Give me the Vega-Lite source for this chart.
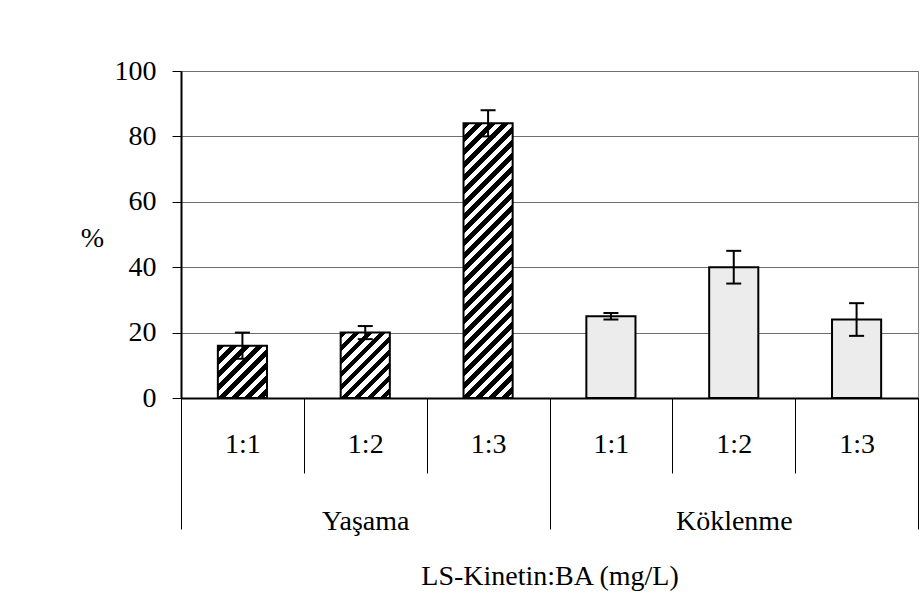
{
  "$schema": "https://vega.github.io/schema/vega-lite/v6.json",
  "width": 737,
  "height": 327,
  "autosize": "none",
  "padding": {"left": 181, "top": 71, "right": 6, "bottom": 210},
  "background": "white",
  "config": {"view": {"stroke": "#808080", "strokeWidth": 1}, "font": "Times New Roman, Liberation Serif, serif"},
  "data": {"values": [
    {"key": "Yaşama|1:1", "grp": "Yaşama", "cat": "1:1", "val": 16, "lo": 12, "hi": 20},
    {"key": "Yaşama|1:2", "grp": "Yaşama", "cat": "1:2", "val": 20, "lo": 18, "hi": 22},
    {"key": "Yaşama|1:3", "grp": "Yaşama", "cat": "1:3", "val": 84, "lo": 80, "hi": 88},
    {"key": "Köklenme|1:1", "grp": "Köklenme", "cat": "1:1", "val": 25, "lo": 24, "hi": 26},
    {"key": "Köklenme|1:2", "grp": "Köklenme", "cat": "1:2", "val": 40, "lo": 35, "hi": 45},
    {"key": "Köklenme|1:3", "grp": "Köklenme", "cat": "1:3", "val": 24, "lo": 19, "hi": 29}
  ]},
  "layer": [
    {
      "layer": [
        {
          "mark": {"type": "bar", "stroke": "black", "strokeWidth": 2, "width": {"band": 0.4}},
          "encoding": {
            "x": {
              "field": "key", "type": "nominal",
              "scale": {"domain": ["Yaşama|1:1", "Yaşama|1:2", "Yaşama|1:3", "Köklenme|1:1", "Köklenme|1:2", "Köklenme|1:3"], "paddingInner": 0, "paddingOuter": 0},
              "axis": {
                "title": null, "labelExpr": "split(datum.value, '|')[1]", "labelAngle": 0,
                "tickBand": "extent", "tickSize": 75, "tickColor": "black", "tickWidth": 1,
                "domainColor": "black", "domainWidth": 2, "grid": false,
                "labelFont": "Times New Roman, Liberation Serif, serif", "labelFontSize": 28, "labelColor": "black",
                "labelBaseline": "middle", "labelPadding": -29
              }
            },
            "y": {
              "field": "val", "type": "quantitative",
              "scale": {"domain": [0, 100]},
              "axis": {
                "values": [0, 20, 40, 60, 80, 100], "grid": true, "gridColor": "#6e6e6e", "gridWidth": 1,
                "tickSize": 9, "tickColor": "black", "domainColor": "black", "domainWidth": 2,
                "labelFont": "Times New Roman, Liberation Serif, serif", "labelFontSize": 28, "labelColor": "black", "labelPadding": 16,
                "title": "%", "titleAngle": 0, "titleX": -89, "titleY": 167, "titleAlign": "center", "titleBaseline": "middle",
                "titleFont": "Times New Roman, Liberation Serif, serif", "titleFontSize": 28, "titleFontWeight": "normal", "titleColor": "black"
              }
            },
            "fill": {
              "condition": [
                {"test": "datum.key === 'Yaşama|1:1'", "value": {"gradient": "linear", "x1": 0, "y1": 0, "x2": 0.9676, "y2": 1.0304, "stops": [
                  {"offset": 0, "color": "#000"}, {"offset": 0.0641, "color": "#000"},
                  {"offset": 0.0641, "color": "#fff"}, {"offset": 0.1282, "color": "#fff"},
                  {"offset": 0.1282, "color": "#000"}, {"offset": 0.1923, "color": "#000"},
                  {"offset": 0.1923, "color": "#fff"}, {"offset": 0.2564, "color": "#fff"},
                  {"offset": 0.2564, "color": "#000"}, {"offset": 0.3205, "color": "#000"},
                  {"offset": 0.3205, "color": "#fff"}, {"offset": 0.3846, "color": "#fff"},
                  {"offset": 0.3846, "color": "#000"}, {"offset": 0.4487, "color": "#000"},
                  {"offset": 0.4487, "color": "#fff"}, {"offset": 0.5128, "color": "#fff"},
                  {"offset": 0.5128, "color": "#000"}, {"offset": 0.5769, "color": "#000"},
                  {"offset": 0.5769, "color": "#fff"}, {"offset": 0.641, "color": "#fff"},
                  {"offset": 0.641, "color": "#000"}, {"offset": 0.7051, "color": "#000"},
                  {"offset": 0.7051, "color": "#fff"}, {"offset": 0.7692, "color": "#fff"},
                  {"offset": 0.7692, "color": "#000"}, {"offset": 0.8333, "color": "#000"},
                  {"offset": 0.8333, "color": "#fff"}, {"offset": 0.8974, "color": "#fff"},
                  {"offset": 0.8974, "color": "#000"}, {"offset": 0.9615, "color": "#000"},
                  {"offset": 0.9615, "color": "#fff"}, {"offset": 1, "color": "#fff"}
                ]}},
                {"test": "datum.key === 'Yaşama|1:2'", "value": {"gradient": "linear", "x1": 0, "y1": 0, "x2": 0.841, "y2": 1.1195, "stops": [
                  {"offset": 0, "color": "#000"}, {"offset": 0.0568, "color": "#000"},
                  {"offset": 0.0568, "color": "#fff"}, {"offset": 0.1135, "color": "#fff"},
                  {"offset": 0.1135, "color": "#000"}, {"offset": 0.1703, "color": "#000"},
                  {"offset": 0.1703, "color": "#fff"}, {"offset": 0.2271, "color": "#fff"},
                  {"offset": 0.2271, "color": "#000"}, {"offset": 0.2839, "color": "#000"},
                  {"offset": 0.2839, "color": "#fff"}, {"offset": 0.3406, "color": "#fff"},
                  {"offset": 0.3406, "color": "#000"}, {"offset": 0.3974, "color": "#000"},
                  {"offset": 0.3974, "color": "#fff"}, {"offset": 0.4542, "color": "#fff"},
                  {"offset": 0.4542, "color": "#000"}, {"offset": 0.5109, "color": "#000"},
                  {"offset": 0.5109, "color": "#fff"}, {"offset": 0.5677, "color": "#fff"},
                  {"offset": 0.5677, "color": "#000"}, {"offset": 0.6245, "color": "#000"},
                  {"offset": 0.6245, "color": "#fff"}, {"offset": 0.6812, "color": "#fff"},
                  {"offset": 0.6812, "color": "#000"}, {"offset": 0.738, "color": "#000"},
                  {"offset": 0.738, "color": "#fff"}, {"offset": 0.7948, "color": "#fff"},
                  {"offset": 0.7948, "color": "#000"}, {"offset": 0.8516, "color": "#000"},
                  {"offset": 0.8516, "color": "#fff"}, {"offset": 0.9083, "color": "#fff"},
                  {"offset": 0.9083, "color": "#000"}, {"offset": 0.9651, "color": "#000"},
                  {"offset": 0.9651, "color": "#fff"}, {"offset": 1, "color": "#fff"}
                ]}},
                {"test": "datum.key === 'Yaşama|1:3'", "value": {"gradient": "linear", "x1": 0, "y1": 0, "x2": 0.2043, "y2": 1.1423, "stops": [
                  {"offset": 0, "color": "#000"}, {"offset": 0.0201, "color": "#000"},
                  {"offset": 0.0201, "color": "#fff"}, {"offset": 0.0402, "color": "#fff"},
                  {"offset": 0.0402, "color": "#000"}, {"offset": 0.0602, "color": "#000"},
                  {"offset": 0.0602, "color": "#fff"}, {"offset": 0.0803, "color": "#fff"},
                  {"offset": 0.0803, "color": "#000"}, {"offset": 0.1004, "color": "#000"},
                  {"offset": 0.1004, "color": "#fff"}, {"offset": 0.1205, "color": "#fff"},
                  {"offset": 0.1205, "color": "#000"}, {"offset": 0.1405, "color": "#000"},
                  {"offset": 0.1405, "color": "#fff"}, {"offset": 0.1606, "color": "#fff"},
                  {"offset": 0.1606, "color": "#000"}, {"offset": 0.1807, "color": "#000"},
                  {"offset": 0.1807, "color": "#fff"}, {"offset": 0.2008, "color": "#fff"},
                  {"offset": 0.2008, "color": "#000"}, {"offset": 0.2208, "color": "#000"},
                  {"offset": 0.2208, "color": "#fff"}, {"offset": 0.2409, "color": "#fff"},
                  {"offset": 0.2409, "color": "#000"}, {"offset": 0.261, "color": "#000"},
                  {"offset": 0.261, "color": "#fff"}, {"offset": 0.2811, "color": "#fff"},
                  {"offset": 0.2811, "color": "#000"}, {"offset": 0.3011, "color": "#000"},
                  {"offset": 0.3011, "color": "#fff"}, {"offset": 0.3212, "color": "#fff"},
                  {"offset": 0.3212, "color": "#000"}, {"offset": 0.3413, "color": "#000"},
                  {"offset": 0.3413, "color": "#fff"}, {"offset": 0.3614, "color": "#fff"},
                  {"offset": 0.3614, "color": "#000"}, {"offset": 0.3814, "color": "#000"},
                  {"offset": 0.3814, "color": "#fff"}, {"offset": 0.4015, "color": "#fff"},
                  {"offset": 0.4015, "color": "#000"}, {"offset": 0.4216, "color": "#000"},
                  {"offset": 0.4216, "color": "#fff"}, {"offset": 0.4417, "color": "#fff"},
                  {"offset": 0.4417, "color": "#000"}, {"offset": 0.4617, "color": "#000"},
                  {"offset": 0.4617, "color": "#fff"}, {"offset": 0.4818, "color": "#fff"},
                  {"offset": 0.4818, "color": "#000"}, {"offset": 0.5019, "color": "#000"},
                  {"offset": 0.5019, "color": "#fff"}, {"offset": 0.522, "color": "#fff"},
                  {"offset": 0.522, "color": "#000"}, {"offset": 0.542, "color": "#000"},
                  {"offset": 0.542, "color": "#fff"}, {"offset": 0.5621, "color": "#fff"},
                  {"offset": 0.5621, "color": "#000"}, {"offset": 0.5822, "color": "#000"},
                  {"offset": 0.5822, "color": "#fff"}, {"offset": 0.6023, "color": "#fff"},
                  {"offset": 0.6023, "color": "#000"}, {"offset": 0.6223, "color": "#000"},
                  {"offset": 0.6223, "color": "#fff"}, {"offset": 0.6424, "color": "#fff"},
                  {"offset": 0.6424, "color": "#000"}, {"offset": 0.6625, "color": "#000"},
                  {"offset": 0.6625, "color": "#fff"}, {"offset": 0.6826, "color": "#fff"},
                  {"offset": 0.6826, "color": "#000"}, {"offset": 0.7026, "color": "#000"},
                  {"offset": 0.7026, "color": "#fff"}, {"offset": 0.7227, "color": "#fff"},
                  {"offset": 0.7227, "color": "#000"}, {"offset": 0.7428, "color": "#000"},
                  {"offset": 0.7428, "color": "#fff"}, {"offset": 0.7629, "color": "#fff"},
                  {"offset": 0.7629, "color": "#000"}, {"offset": 0.7829, "color": "#000"},
                  {"offset": 0.7829, "color": "#fff"}, {"offset": 0.803, "color": "#fff"},
                  {"offset": 0.803, "color": "#000"}, {"offset": 0.8231, "color": "#000"},
                  {"offset": 0.8231, "color": "#fff"}, {"offset": 0.8432, "color": "#fff"},
                  {"offset": 0.8432, "color": "#000"}, {"offset": 0.8632, "color": "#000"},
                  {"offset": 0.8632, "color": "#fff"}, {"offset": 0.8833, "color": "#fff"},
                  {"offset": 0.8833, "color": "#000"}, {"offset": 0.9034, "color": "#000"},
                  {"offset": 0.9034, "color": "#fff"}, {"offset": 0.9235, "color": "#fff"},
                  {"offset": 0.9235, "color": "#000"}, {"offset": 0.9435, "color": "#000"},
                  {"offset": 0.9435, "color": "#fff"}, {"offset": 0.9636, "color": "#fff"},
                  {"offset": 0.9636, "color": "#000"}, {"offset": 0.9837, "color": "#000"},
                  {"offset": 0.9837, "color": "#fff"}, {"offset": 1, "color": "#fff"}
                ]}}
              ],
              "value": "#ececec"
            }
          }
        },
        {
          "mark": {"type": "rule", "strokeWidth": 2, "color": "black"},
          "encoding": {
            "x": {"field": "key", "type": "nominal"},
            "y": {"field": "lo", "type": "quantitative"},
            "y2": {"field": "hi"}
          }
        },
        {
          "mark": {"type": "tick", "size": 15, "thickness": 2, "color": "black", "opacity": 1},
          "encoding": {
            "x": {"field": "key", "type": "nominal"},
            "y": {"field": "lo", "type": "quantitative"}
          }
        },
        {
          "mark": {"type": "tick", "size": 15, "thickness": 2, "color": "black", "opacity": 1},
          "encoding": {
            "x": {"field": "key", "type": "nominal"},
            "y": {"field": "hi", "type": "quantitative"}
          }
        }
      ]
    },
    {
      "mark": {"type": "point", "opacity": 0, "size": 0},
      "encoding": {
        "x": {
          "field": "grp", "type": "nominal",
          "scale": {"domain": ["Yaşama", "Köklenme"], "paddingInner": 0, "paddingOuter": 0},
          "axis": {
            "orient": "bottom", "title": "LS-Kinetin:BA (mg/L)",
            "tickBand": "extent", "tickSize": 131, "tickColor": "black", "tickWidth": 1,
            "domain": false, "labelAngle": 0,
            "labelFont": "Times New Roman, Liberation Serif, serif", "labelFontSize": 28, "labelColor": "black",
            "labelBaseline": "middle", "labelPadding": -8,
            "titleFont": "Times New Roman, Liberation Serif, serif", "titleFontSize": 28, "titleFontWeight": "normal", "titleColor": "black",
            "titleY": 178, "titleBaseline": "middle"
          }
        }
      }
    }
  ],
  "resolve": {"scale": {"x": "independent"}, "axis": {"x": "independent"}}
}
